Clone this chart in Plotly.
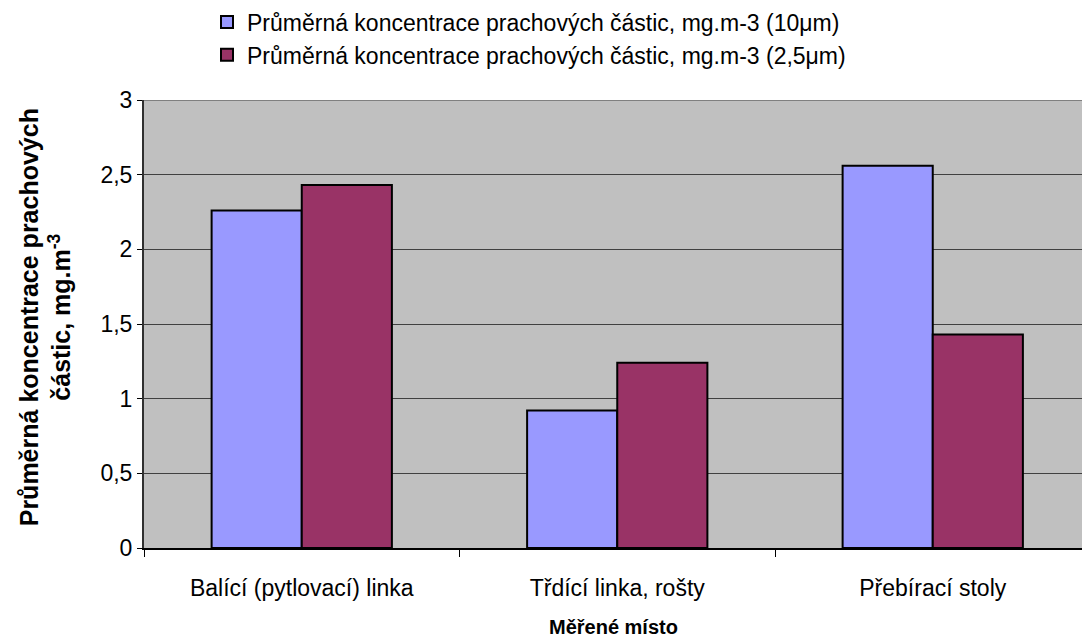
import plotly.graph_objects as go

categories = ["Balící (pytlovací) linka", "Třdící linka, rošty", "Přebírací stoly"]
pm10 = [2.26, 0.92, 2.56]
pm25 = [2.43, 1.24, 1.43]
series_names = [
    "Průměrná koncentrace prachových částic, mg.m-3 (10μm)",
    "Průměrná koncentrace prachových částic, mg.m-3 (2,5μm)",
]
y_ticks = [0, 0.5, 1, 1.5, 2, 2.5, 3]

FONT = "Liberation Sans, Arial, sans-serif"

fig = go.Figure()
fig.add_trace(go.Bar(x=categories, y=pm10, name=series_names[0],
                     marker=dict(color="#9999FF", line=dict(color="black", width=2))))
fig.add_trace(go.Bar(x=categories, y=pm25, name=series_names[1],
                     marker=dict(color="#993366", line=dict(color="black", width=2))))

W, H = 1082, 637
L, R, T, B = 144, 0, 98, 89
plot_w = W - L - R
cat_w = 315.5
x_end = -0.5 + plot_w / cat_w

fig.update_layout(
    width=W, height=H,
    margin=dict(l=L, r=R, t=T, b=B, pad=0),
    paper_bgcolor="white",
    plot_bgcolor="#C0C0C0",
    barmode="group",
    bargap=1.5 / 3.5,
    bargroupgap=0,
    separators=", ",
    font=dict(family=FONT, size=23, color="black"),
    showlegend=True,
    legend=dict(
        x=(207 - L) / plot_w, xanchor="left",
        y=1 + (98 + 2) / 450, yanchor="top",
        orientation="v",
        font=dict(family=FONT, size=23, color="black"),
        bgcolor="rgba(0,0,0,0)",
        itemwidth=30,
        tracegroupgap=0,
    ),
    xaxis=dict(
        type="category",
        range=[-0.5, x_end],
        tickson="boundaries",
        ticks="outside", ticklen=7, tickwidth=1, tickcolor="black",
        showline=True, linecolor="black", linewidth=2,
        showgrid=False,
        tickfont=dict(family=FONT, size=23, color="black"),
        ticklabelstandoff=18,
        fixedrange=True,
    ),
    yaxis=dict(
        range=[0, 3],
        tickvals=y_ticks,
        ticks="outside", ticklen=5, tickwidth=1, tickcolor="black",
        showline=True, linecolor="#303030", linewidth=2,
        showgrid=True, gridcolor="#404040", gridwidth=1,
        zeroline=False,
        tickfont=dict(family=FONT, size=23, color="black"),
        ticklabelstandoff=0,
        fixedrange=True,
    ),
    shapes=[dict(type="line", xref="paper", yref="y", x0=0, x1=1, y0=3, y1=3,
                 line=dict(color="#808080", width=2), layer="above")],
    annotations=[
        dict(text="<b>Průměrná koncentrace prachových<br>částic, mg.m<sup>-3</sup></b>",
             xref="paper", yref="paper", x=(45 - L) / plot_w, y=0.515,
             xanchor="center", yanchor="middle", textangle=-90, showarrow=False,
             font=dict(family=FONT, size=25, color="black")),
        dict(text="<b>Měřené místo</b>",
             xref="paper", yref="paper", x=0.5, y=-(627 - 548) / 450,
             xanchor="center", yanchor="middle", showarrow=False,
             font=dict(family=FONT, size=20, color="black")),
    ],
)

fig.write_html("out.html", config={"displayModeBar": False},
               post_script="document.body.style.margin='0';")
